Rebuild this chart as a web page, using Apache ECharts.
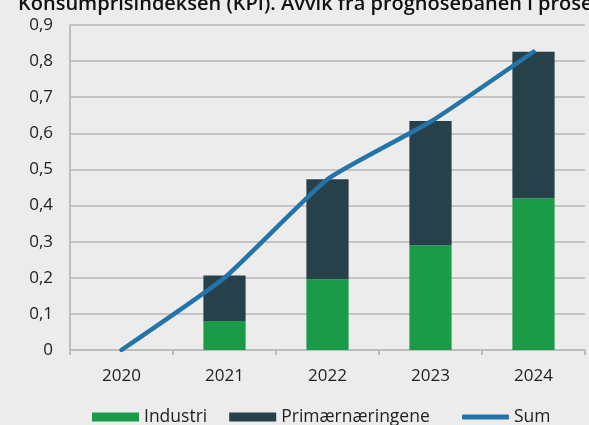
<!DOCTYPE html>
<html><head><meta charset="utf-8">
<script src="https://cdn.jsdelivr.net/npm/echarts@6/dist/echarts.min.js"></script>
<style>html,body{margin:0;padding:0;background:#ececec;}#c{width:589px;height:425px;}</style>
</head><body><div id="c"></div>
<script>
const categories = ['2020','2021','2022','2023','2024'];
const industri = [0, 0.08, 0.196, 0.29, 0.42];
const primaer = [0, 0.126, 0.277, 0.344, 0.406];
const sum = [0, 0.2, 0.473, 0.632, 0.826];
const titleText = 'Konsumprisindeksen (KPI). Avvik fra prognosebanen i prosent';

const font = '"Open Sans", sans-serif';
const chart = echarts.init(document.getElementById('c'), null, {renderer:'canvas'});
chart.setOption({
  backgroundColor: '#ececec',
  animation: false,
  title: { text: titleText, left: 13, top: -11,
    textStyle: { fontFamily: font, fontSize: 20, fontWeight: 600, color: '#111' } },
  grid: { left: 70, right: 4, top: 25, bottom: 75, containLabel: false },
  legend: [{
    data: ['Industri','Primærnæringene'], left: 87, top: 403,
    itemWidth: 47, itemHeight: 9, itemGap: 22, icon: 'rect',
    textStyle: { fontFamily: font, fontSize: 17.5, color: '#222' }
  },{
    data: ['Sum'], left: 457, top: 403,
    itemWidth: 47, itemHeight: 5, icon: 'roundRect',
    textStyle: { fontFamily: font, fontSize: 17.5, color: '#222' }
  }],
  xAxis: {
    type: 'category', data: categories,
    axisLine: { lineStyle: { color: '#bdbdbd', width: 2 } },
    axisTick: { show: true, length: 5, lineStyle: { color: '#bdbdbd', width: 2 } },
    axisLabel: { fontFamily: font, fontSize: 17, color: '#222', margin: 18 }
  },
  yAxis: {
    type: 'value', min: 0, max: 0.9, interval: 0.1,
    axisLine: { show: true, lineStyle: { color: '#bdbdbd', width: 2 } },
    axisTick: { show: false },
    splitLine: { lineStyle: { color: '#c4c4c4', width: 2 } },
    axisLabel: { fontFamily: font, fontSize: 17, color: '#222', margin: 17,
      formatter: v => (Math.round(v*10)/10).toString().replace('.', ',') }
  },
  series: [
    { name: 'Industri', type: 'bar', stack: 's', data: industri, barWidth: '41%',
      itemStyle: { color: '#1b9b48' } },
    { name: 'Primærnæringene', type: 'bar', stack: 's', data: primaer, barWidth: '41%',
      itemStyle: { color: '#27414a' } },
    { name: 'Sum', type: 'line', data: sum, symbol: 'none', smooth: 0.15,
      lineStyle: { color: '#2574a9', width: 4.5, cap: 'round', join: 'round' },
      itemStyle: { color: '#2574a9' } }
  ]
});
</script></body></html>
